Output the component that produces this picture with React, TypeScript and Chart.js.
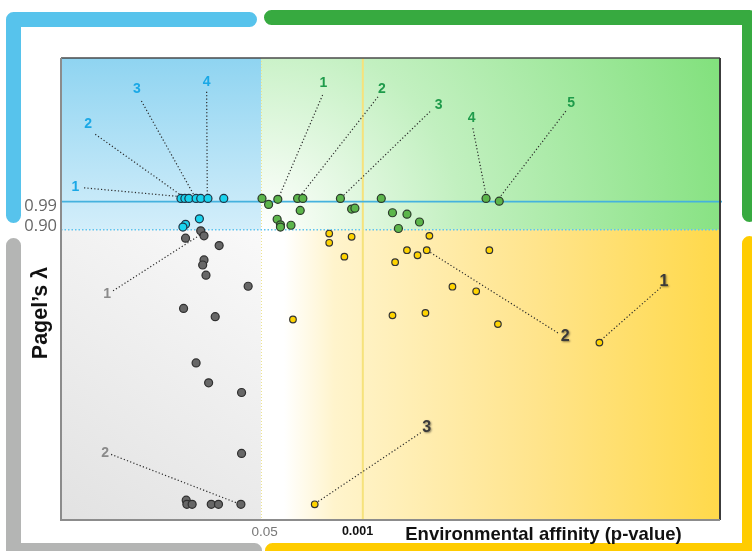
import React, { useEffect, useRef } from 'react';
import { Chart, registerables } from 'chart.js';

Chart.register(...registerables);

// ---- data (abstract plot units: x 0..100 left→right, y 0..100 bottom→top) ----
const cyanX = [18.2, 18.8, 19.4, 20.5, 21.2, 22.3, 24.7, 21.0, 18.9, 18.5];
const cyanY = [69.6, 69.6, 69.6, 69.6, 69.6, 69.6, 69.6, 65.2, 64.0, 63.4];

const greenX = [30.5, 31.5, 32.9, 35.9, 36.7, 36.3, 42.4, 44.1, 44.6, 48.6, 50.3, 52.5, 54.4, 51.2, 32.8, 33.3, 33.3, 34.9, 64.5, 66.5];
const greenY = [69.6, 68.3, 69.4, 69.6, 69.6, 67.0, 69.6, 67.3, 67.5, 69.6, 66.5, 66.2, 64.5, 63.1, 65.1, 63.9, 63.4, 63.8, 69.6, 69.0];

const grayX = [21.2, 21.7, 18.9, 24.0, 21.7, 21.5, 22.0, 28.4, 18.6, 23.4, 20.5, 22.4, 27.4, 27.4, 19.0, 19.1, 19.9, 22.8, 23.9, 27.3];
const grayY = [62.6, 61.5, 61.0, 59.4, 56.3, 55.2, 53.0, 50.6, 45.8, 44.0, 34.0, 29.7, 27.6, 14.4, 4.3, 3.4, 3.4, 3.4, 3.4, 3.4];

const yellowX = [40.7, 40.7, 44.1, 43.0, 55.9, 52.5, 54.1, 55.5, 50.7, 65.0, 59.4, 63.0, 50.3, 55.3, 66.3, 81.7, 35.2, 38.5];
const yellowY = [62.0, 60.0, 61.3, 57.0, 61.5, 58.4, 57.3, 58.4, 55.8, 58.4, 50.5, 49.5, 44.3, 44.8, 42.4, 38.4, 43.4, 3.4];

// thresholds
const pDivide = 30.35; // p = 0.05
const pStrong = 45.8; // p = 0.001
const lambdaHigh = 68.9; // 0.99
const lambdaLow = 62.8; // 0.90

// tick labels
const xTickValues = [30.9, 45.0];
const xTickLabels = ['0.05', '0.001'];
const yTickValues = [68.0, 63.5];
const yTickLabels = ['0.99', '0.90'];

// numbered call-outs
const calloutText = ['1', '2', '3', '4', '1', '2', '3', '4', '5', '1', '2', '1', '2', '3'];
const calloutGroup = ['cyan', 'cyan', 'cyan', 'cyan', 'green', 'green', 'green', 'green', 'green', 'gray', 'gray', 'yellow', 'yellow', 'yellow'];
const calloutX = [2.2, 4.1, 11.5, 22.1, 39.8, 48.7, 57.3, 62.3, 77.4, 7.0, 6.7, 91.5, 76.5, 55.5];
const calloutY = [72.1, 85.7, 93.3, 94.7, 94.5, 93.2, 89.8, 86.9, 90.2, 48.9, 14.4, 51.5, 39.8, 20.0];
const leaderFromX = [3.5, 5.2, 12.2, 22.1, 39.7, 48.1, 56.0, 62.5, 76.6, 7.9, 7.6, 91.0, 75.4, 54.6];
const leaderFromY = [71.9, 83.5, 90.7, 92.7, 92.0, 91.6, 88.4, 84.8, 88.5, 49.6, 14.2, 50.3, 40.5, 18.9];
const leaderToX = [18.1, 18.3, 20.3, 22.2, 33.1, 36.4, 42.9, 64.5, 66.5, 21.1, 27.2, 81.6, 55.5, 38.5];
const leaderToY = [70.0, 70.2, 70.0, 70.0, 70.0, 70.3, 70.3, 70.3, 69.7, 61.7, 3.4, 38.5, 58.4, 3.5];

const xTitle = 'Environmental affinity (p-value)';
const yTitle = 'Pagel\u2019s \u03bb';

const labelColors: Record<string, string> = {
  cyan: '#1aa8e6',
  green: '#1f9b4b',
  gray: '#8a8a8a',
  yellow: '#3a3a3a',
};

const zip = (xs: number[], ys: number[]) => xs.map((x, i) => ({ x, y: ys[i] }));

const backgroundPlugin = {
  id: 'quadrants',
  beforeDraw(chart: any) {
    const { ctx, chartArea, scales } = chart;
    const { left, right, top, bottom } = chartArea;
    const xd = scales.x.getPixelForValue(pDivide);
    const yd = scales.y.getPixelForValue(lambdaLow);
    ctx.save();
    ctx.fillStyle = '#ffffff';
    ctx.fillRect(0, 0, chart.width, chart.height);

    // brackets
    ctx.lineWidth = 15;
    ctx.lineCap = 'round';
    ctx.lineJoin = 'round';
    const bracket = (color: string, pts: number[][]) => {
      ctx.strokeStyle = color;
      ctx.beginPath();
      ctx.moveTo(pts[0][0], pts[0][1]);
      for (let i = 1; i < pts.length; i++) ctx.lineTo(pts[i][0], pts[i][1]);
      ctx.stroke();
    };
    bracket('#57c3ec', [[13.5, 215.5], [13.5, 19.5], [249.5, 19.5]]);
    bracket('#37aa40', [[271.5, 17.5], [749.5, 17.5], [749.5, 214.5]]);
    bracket('#b4b5b4', [[13.5, 245.5], [13.5, 550.5], [254.5, 550.5]]);
    bracket('#ffcc00', [[749.5, 243.5], [749.5, 550.5], [272.5, 550.5]]);

    // top-left blue
    let g = ctx.createLinearGradient(0, top, 0, yd);
    g.addColorStop(0, '#8fd4f1');
    g.addColorStop(1, '#d3eefa');
    ctx.fillStyle = g;
    ctx.fillRect(left, top, xd - left, yd - top);

    // top-right green
    const rg = ctx.createRadialGradient(xd, yd, 0, xd, yd, 500);
    rg.addColorStop(0, '#ffffff');
    rg.addColorStop(0.08, '#f4fcf3');
    rg.addColorStop(0.4, '#c2f0c0');
    rg.addColorStop(1, '#7fe07a');
    ctx.fillStyle = rg;
    ctx.fillRect(xd, top, right - xd, yd - top);

    // bottom-left gray
    g = ctx.createLinearGradient(xd, yd, left, bottom);
    g.addColorStop(0, '#f9f9f9');
    g.addColorStop(1, '#e2e2e2');
    ctx.fillStyle = g;
    ctx.fillRect(left, yd, xd - left, bottom - yd);

    // bottom-right yellow
    g = ctx.createLinearGradient(xd, 0, right, 0);
    g.addColorStop(0, '#ffffff');
    g.addColorStop(0.05, '#ffffff');
    g.addColorStop(0.16, '#fff4cc');
    g.addColorStop(0.6, '#ffe48c');
    g.addColorStop(1, '#ffd94a');
    ctx.fillStyle = g;
    ctx.fillRect(xd, yd, right - xd, bottom - yd);
    ctx.restore();
  },
  beforeDatasetsDraw(chart: any) {
    const { ctx, chartArea, scales } = chart;
    const { left, right, top, bottom } = chartArea;
    const xd = scales.x.getPixelForValue(pDivide);
    const xs = scales.x.getPixelForValue(pStrong);
    const yh = scales.y.getPixelForValue(lambdaHigh);
    const yl = scales.y.getPixelForValue(lambdaLow);
    ctx.save();
    // dotted p=0.05 divider
    ctx.strokeStyle = '#ece38e';
    ctx.lineWidth = 1;
    ctx.setLineDash([1, 2]);
    ctx.beginPath();
    ctx.moveTo(xd + 0.5, top);
    ctx.lineTo(xd + 0.5, bottom);
    ctx.stroke();
    // dotted 0.90 line
    ctx.strokeStyle = '#5ec3ee';
    ctx.lineWidth = 1.5;
    ctx.setLineDash([1.5, 2]);
    ctx.beginPath();
    ctx.moveTo(left, yl);
    ctx.lineTo(right + 2, yl);
    ctx.stroke();
    ctx.setLineDash([]);
    // solid p=0.001
    ctx.strokeStyle = '#f6e27c';
    ctx.lineWidth = 2;
    ctx.beginPath();
    ctx.moveTo(xs, top);
    ctx.lineTo(xs, bottom);
    ctx.stroke();
    // solid 0.99 line
    ctx.strokeStyle = '#45b2de';
    ctx.lineWidth = 1.8;
    ctx.beginPath();
    ctx.moveTo(left, yh);
    ctx.lineTo(right + 2, yh);
    ctx.stroke();
    // frame
    ctx.lineWidth = 1.5;
    ctx.strokeStyle = '#4a4a4a';
    ctx.beginPath();
    ctx.moveTo(left, top);
    ctx.lineTo(right, top);
    ctx.stroke();
    ctx.lineWidth = 2;
    ctx.strokeStyle = '#3c3c3c';
    ctx.beginPath();
    ctx.moveTo(right, top);
    ctx.lineTo(right, bottom);
    ctx.stroke();
    ctx.strokeStyle = '#8c8c8c';
    ctx.beginPath();
    ctx.moveTo(left, top);
    ctx.lineTo(left, bottom);
    ctx.lineTo(right, bottom);
    ctx.stroke();
    ctx.restore();
  },
  afterDatasetsDraw(chart: any) {
    const { ctx, scales } = chart;
    ctx.save();
    ctx.textAlign = 'center';
    ctx.textBaseline = 'middle';
    calloutText.forEach((t, i) => {
      const grp = calloutGroup[i];
      const px = scales.x.getPixelForValue(calloutX[i]);
      const py = scales.y.getPixelForValue(calloutY[i]);
      if (grp === 'yellow') {
        ctx.font = 'bold 16px "Liberation Sans", Arial, sans-serif';
        ctx.shadowColor = 'rgba(0,0,0,0.45)';
        ctx.shadowBlur = 2;
        ctx.shadowOffsetX = 1;
        ctx.shadowOffsetY = 1;
      } else {
        ctx.font = 'bold 14px "Liberation Sans", Arial, sans-serif';
        ctx.shadowColor = 'transparent';
        ctx.shadowBlur = 0;
        ctx.shadowOffsetX = 0;
        ctx.shadowOffsetY = 0;
      }
      ctx.fillStyle = labelColors[grp];
      ctx.fillText(t, px, py);
    });
    ctx.shadowColor = 'transparent';
    ctx.shadowBlur = 0;
    ctx.shadowOffsetX = 0;
    ctx.shadowOffsetY = 0;
    // axis titles
    ctx.fillStyle = '#111111';
    ctx.font = 'bold 18.5px "Liberation Sans", Arial, sans-serif';
    ctx.fillText(xTitle, 543.5, 534.5);
    ctx.translate(41, 313);
    ctx.rotate(-Math.PI / 2);
    ctx.font = 'bold 21.5px "Liberation Sans", Arial, sans-serif';
    ctx.fillText(yTitle, 0, 0);
    ctx.restore();
  },
};

export default function App() {
  const ref = useRef<HTMLCanvasElement | null>(null);
  useEffect(() => {
    document.body.style.margin = '0';
    if (!ref.current) return;
    const leaderSets = calloutText.map((_, i) => ({
      type: 'line' as const,
      data: [
        { x: leaderFromX[i], y: leaderFromY[i] },
        { x: leaderToX[i], y: leaderToY[i] },
      ],
      borderColor: '#2a2a2a',
      borderWidth: 1.2,
      borderDash: [1.2, 2.2],
      pointRadius: 0,
      showLine: true,
      fill: false,
      order: 10,
    }));
    const pointSet = (xs: number[], ys: number[], fill: string, edge: string, r: number) => ({
      type: 'scatter' as const,
      data: zip(xs, ys),
      backgroundColor: fill,
      borderColor: edge,
      borderWidth: 1.2,
      pointRadius: r,
      order: 0,
    });
    const chart = new Chart(ref.current, {
      type: 'scatter',
      data: {
        datasets: [
          ...leaderSets,
          pointSet(grayX, grayY, '#676767', '#2f2f2f', 4),
          pointSet(yellowX, yellowY, '#ffd400', '#333333', 3.3),
          pointSet(greenX, greenY, '#5cb64b', '#2b3a2b', 4),
          pointSet(cyanX, cyanY, '#1ad3ee', '#1f3446', 4),
        ] as any,
      },
      options: {
        animation: false,
        responsive: false,
        devicePixelRatio: 1,
        layout: { padding: { top: 58, right: 32, left: 0, bottom: 0 } },
        plugins: {
          legend: { display: false },
          tooltip: { enabled: false },
          title: { display: false },
        },
        scales: {
          x: {
            type: 'linear',
            min: 0,
            max: 100,
            grid: { display: false, drawTicks: false },
            border: { display: false },
            afterFit: (s: any) => {
              s.height = 31;
            },
            afterBuildTicks: (s: any) => {
              s.ticks = xTickValues.map((v) => ({ value: v }));
            },
            ticks: {
              padding: 4,
              autoSkip: false,
              maxRotation: 0,
              callback: (v: any) => xTickLabels[xTickValues.indexOf(Number(v))] ?? '',
              color: (c: any) => (c.index === 1 ? '#111111' : '#777777'),
              font: (c: any) =>
                c.index === 1
                  ? { family: '"Liberation Sans", Arial, sans-serif', size: 12.5, weight: 'bold' }
                  : { family: '"Liberation Sans", Arial, sans-serif', size: 13.5, weight: 'normal' },
            },
          },
          y: {
            type: 'linear',
            min: 0,
            max: 100,
            grid: { display: false, drawTicks: false },
            border: { display: false },
            afterFit: (s: any) => {
              s.width = 61;
            },
            afterBuildTicks: (s: any) => {
              s.ticks = yTickValues.map((v) => ({ value: v }));
            },
            ticks: {
              padding: 4,
              autoSkip: false,
              callback: (v: any) => yTickLabels[yTickValues.indexOf(Number(v))] ?? '',
              color: '#666666',
              font: { family: '"Open Sans", "Liberation Sans", sans-serif', size: 16.5, weight: 'normal' },
            },
          },
        },
      } as any,
      plugins: [backgroundPlugin],
    });
    return () => chart.destroy();
  }, []);
  return (
    <div style={{ position: 'fixed', left: 0, top: 0, width: 752, height: 551 }}>
      <canvas ref={ref} width={752} height={551} style={{ display: 'block' }} />
    </div>
  );
}
